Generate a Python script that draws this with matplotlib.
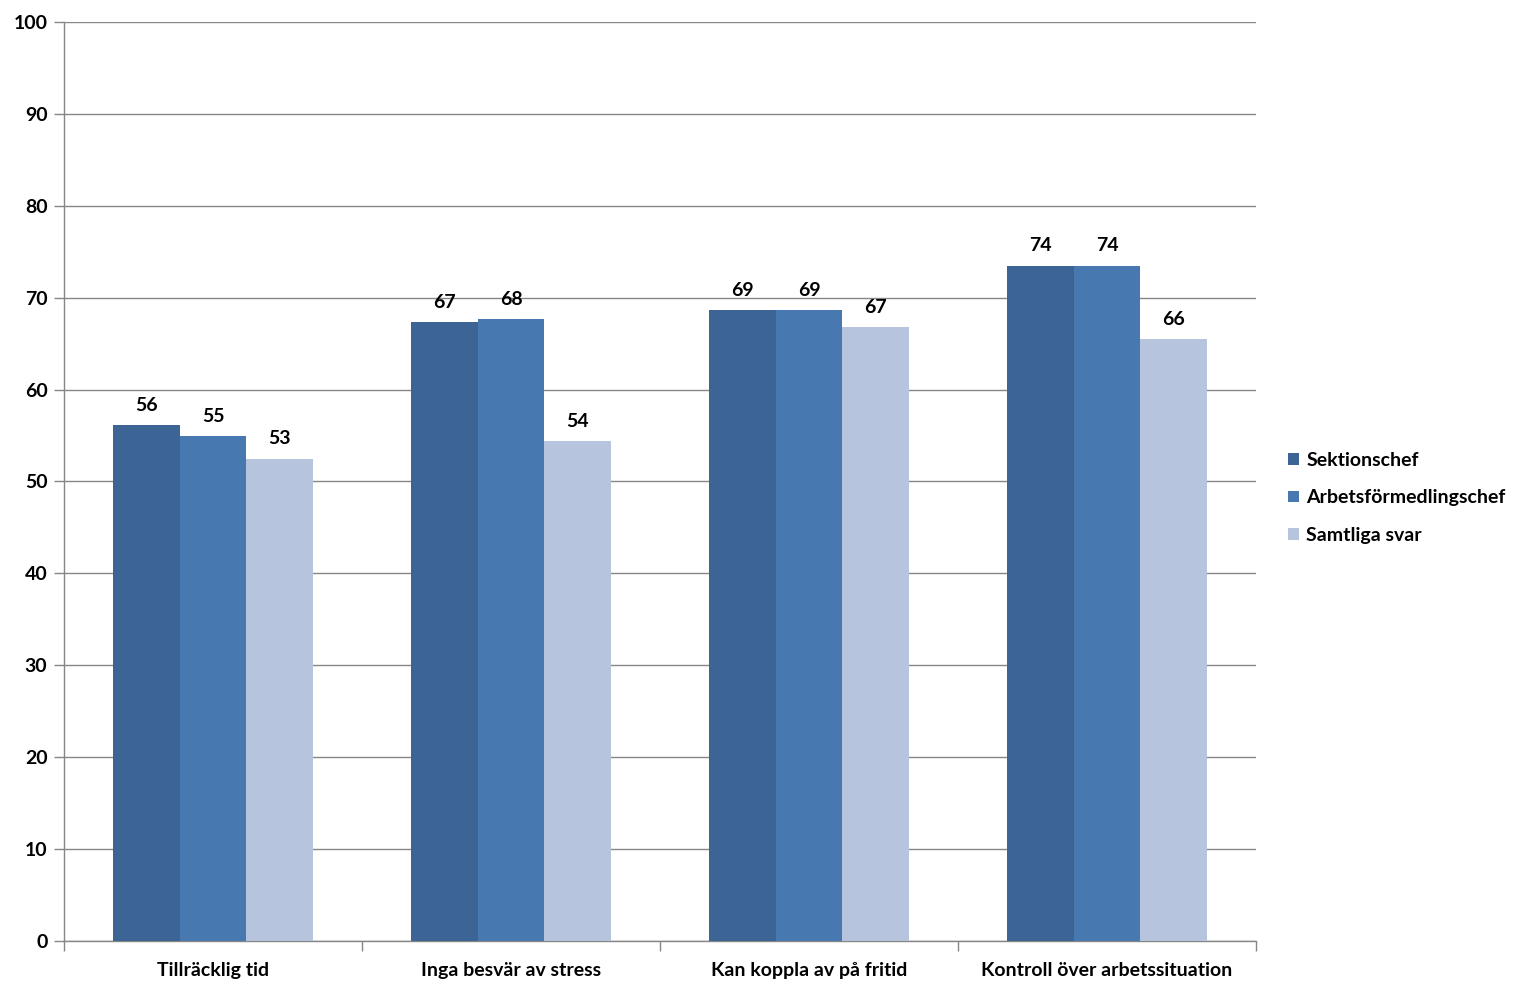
import numpy as np
import matplotlib.pyplot as plt

categories = ['Tillräcklig tid', 'Inga besvär av stress', 'Kan koppla av på fritid', 'Kontroll över arbetssituation']
series_names = ['Sektionschef', 'Arbetsförmedlingschef', 'Samtliga svar']
sektionschef = [56.1, 67.3, 68.7, 73.5]
arbetsformedlingschef = [54.9, 67.7, 68.7, 73.5]
samtliga = [52.5, 54.4, 66.8, 65.5]
labels = [[56, 67, 69, 74], [55, 68, 69, 74], [53, 54, 67, 66]]
colors = ['#3C6595', '#4878B0', '#B6C4DE']

plt.rcParams['font.family'] = ['Lato', 'DejaVu Sans']
plt.rcParams['font.weight'] = 'bold'

fig = plt.figure(figsize=(15.25, 9.94), dpi=100)
ax = fig.add_axes([0.042, 0.0533, 0.7816, 0.9246])

x = np.arange(len(categories))
w = 0.223
for i, (vals, name) in enumerate(zip([sektionschef, arbetsformedlingschef, samtliga], series_names)):
    pos = x + (i - 1) * w
    ax.bar(pos, vals, width=w, color=colors[i], label=name, zorder=3)
    for xp, v, lab in zip(pos, vals, labels[i]):
        ax.text(xp, v + 1.2, str(lab), ha='center', va='bottom', fontsize=14, fontweight='bold')

ax.set_xlim(-0.5, len(categories) - 0.5)
ax.set_ylim(0, 100)
ax.set_yticks(range(0, 101, 10))
ax.yaxis.grid(True, color='#868686', linewidth=1, zorder=0)
ax.set_axisbelow(True)

ax.set_xticks(x)
ax.set_xticklabels(categories, fontsize=14, fontweight='bold')
ax.set_xticks(np.arange(-0.5, len(categories), 1), minor=True)
ax.tick_params(axis='x', which='major', length=0, pad=15)
ax.tick_params(axis='x', which='minor', length=7, color='#868686', width=1)
ax.tick_params(axis='y', length=7, color='#868686', width=1, labelsize=14, pad=5)
for t in ax.get_yticklabels():
    t.set_fontweight('bold')

for s in ['top', 'right']:
    ax.spines[s].set_visible(False)
for s in ['left', 'bottom']:
    ax.spines[s].set_color('#868686')
    ax.spines[s].set_linewidth(1)

fig.legend(loc='center left', bbox_to_anchor=(0.833, 0.499), frameon=False,
           handlelength=0.55, handleheight=0.55, handletextpad=0.4,
           labelspacing=1.05, prop={'size': 14, 'weight': 'bold'})

fig.savefig('out.png', dpi=100)
